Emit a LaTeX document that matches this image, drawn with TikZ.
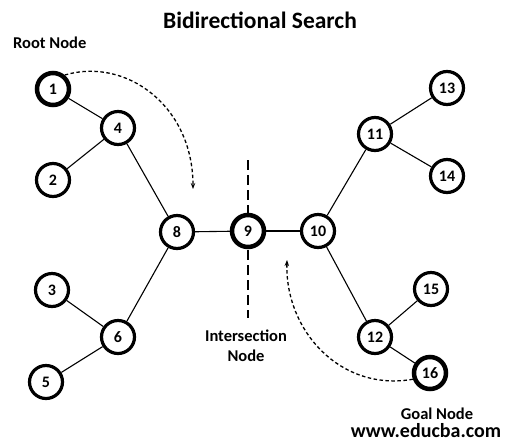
\documentclass[tikz,border=0pt]{standalone}
\usepackage{fontspec}
\setmainfont{Carlito}
\usetikzlibrary{arrows.meta}
\begin{document}
\begin{tikzpicture}[x=1pt,y=-1pt,
  vtx/.style={circle,draw=black,fill=white,line width=3.2pt,minimum size=33pt,inner sep=0pt,font=\bfseries\fontsize{16}{16}\selectfont},
  vtxthick/.style={vtx,line width=4.5pt,minimum size=32pt},
  edge/.style={line width=1.1pt},
  search/.style={line width=1.3pt,dash pattern=on 3.5pt off 2.5pt,-{Stealth[length=6pt,width=4.5pt]}},
  divider/.style={line width=2.4pt,dash pattern=on 10pt off 5pt},
  lbl/.style={font=\bfseries\fontsize{16.5}{20}\selectfont,align=center,inner sep=0pt}]
\useasboundingbox (0,0) rectangle (505,445);
\fill[white] (0,0) rectangle (505,445);
% divider
\coordinate (dtop) at (248,160);
\coordinate (dbot) at (248,318);
\draw[divider] (dtop) -- (dbot);
% nodes
\node[vtxthick] (n1) at (53,89) {1};
\node[vtx] (n2) at (53,180) {2};
\node[vtx] (n3) at (52,290) {3};
\node[vtx] (n4) at (118,128) {4};
\node[vtx] (n5) at (46,382) {5};
\node[vtx] (n6) at (118,337) {6};
\node[vtx] (n8) at (177,232) {8};
\node[vtxthick] (n9) at (248,231) {9};
\node[vtx] (n10) at (318,231) {10};
\node[vtx] (n11) at (375,134) {11};
\node[vtx] (n12) at (375,337) {12};
\node[vtx] (n13) at (447,88) {13};
\node[vtx] (n14) at (447,176) {14};
\node[vtx] (n15) at (431,289) {15};
\node[vtxthick] (n16) at (430,373) {16};
% edges
\draw[edge] (n1) -- (n4);
\draw[edge] (n4) -- (n2);
\draw[edge] (n4) -- (n8);
\draw[edge] (n8) -- (n9);
\draw[edge] (n9) -- (n10);
\draw[edge] (n8) -- (n6);
\draw[edge] (n6) -- (n3);
\draw[edge] (n6) -- (n5);
\draw[edge] (n10) -- (n11);
\draw[edge] (n11) -- (n13);
\draw[edge] (n11) -- (n14);
\draw[edge] (n10) -- (n12);
\draw[edge] (n12) -- (n15);
\draw[edge] (n12) -- (n16);
% search arrows
\coordinate (fwdend) at (193,189);
\coordinate (bwdend) at (287,260);
\draw[search] (n1.50) .. controls (125,57) and (193,105) .. (fwdend);
\draw[search] (n16.200) .. controls (340,392) and (285,330) .. (bwdend);
% labels
\node[font=\bfseries\fontsize{23.5}{28}\selectfont,inner sep=0pt] (title) at (260,20) {Bidirectional Search};
\node[lbl,anchor=west] (root) at (13,43) {Root Node};
\node[lbl] (inter) at (246,346) {Intersection\\Node};
\node[lbl] (goal) at (437,414) {Goal Node};
\node[font=\bfseries\fontsize{20}{24}\selectfont,inner sep=0pt] (web) at (426,431) {www.educba.com};
\end{tikzpicture}
\end{document}
